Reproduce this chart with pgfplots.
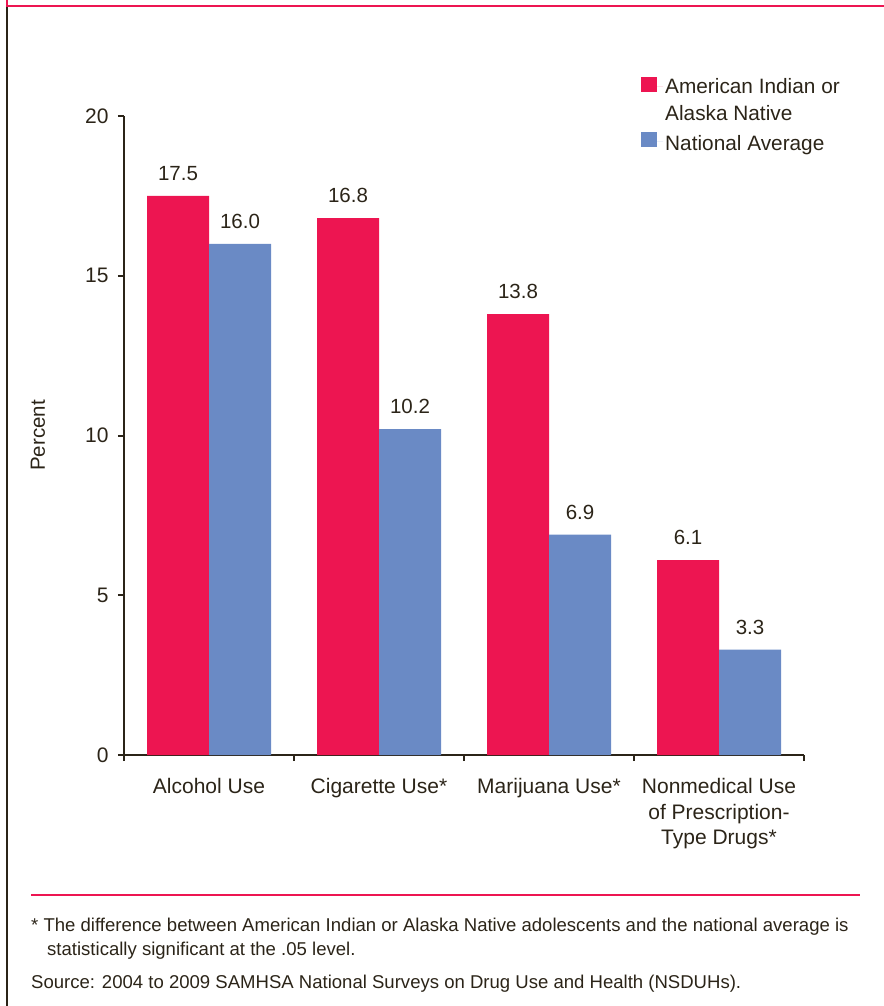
\documentclass[border=0pt]{standalone}
\usepackage{pgfplots}
\pgfplotsset{compat=1.18}
\usepackage{fontspec}
\setmainfont{Liberation Sans}
\definecolor{aired}{RGB}{237,21,81}
\definecolor{natblue}{RGB}{106,138,197}
\definecolor{txt}{RGB}{43,36,24}
\begin{document}
\begin{tikzpicture}[x=1pt,y=1pt]
\useasboundingbox (0,0) rectangle (883,-1006);
\draw[aired, line width=2pt] (7,2) -- (7,-6) -- (885,-6);
\draw[txt, line width=2.5pt] (7,-7) -- (7,-1008);
\begin{axis}[
  at={(124pt,-755pt)}, anchor=south west,
  scale only axis, width=680pt, height=639pt,
  ymin=0, ymax=20, xmin=-0.5, xmax=3.5,
  ytick={0,5,10,15,20},
  xtick={0,1,2,3},
  xticklabels={Alcohol Use, Cigarette Use*, Marijuana Use*, {Nonmedical Use\\of Prescription-\\Type Drugs*}},
  minor xtick={-0.5,0.5,1.5,2.5,3.5},
  axis lines*=left,
  axis line style={txt, line width=2.2pt},
  tick align=outside,
  major tick length=6pt, minor tick length=6pt,
  tick style={txt, line width=2pt},
  major x tick style={draw=none},
  /pgf/number format/assume math mode=true,
  tick label style={text=txt, font=\fontsize{21}{25.5}\selectfont},
  xticklabel style={align=center, yshift=-14pt},
  yticklabel style={xshift=-6pt},
  ylabel={Percent},
  ylabel style={at={(axis description cs:-0.1265,0.5)}, anchor=center, rotate=0, text=txt, font=\fontsize{20.5}{25}\selectfont},
  ybar, bar width=62pt, clip=false,
  nodes near coords={\pgfmathprintnumber[fixed,fixed zerofill,precision=1]{\pgfplotspointmeta}},
  nodes near coords style={anchor=south, inner sep=0pt, yshift=15pt, text=txt, font=\fontsize{20.5}{24}\selectfont, /pgf/number format/assume math mode=true},
  legend style={at={(axis description cs:0.7603,1.0626)}, anchor=north west, draw=none, fill=none, inner sep=0pt,
     font=\fontsize{20.8}{27.5}\selectfont, text=txt, cells={anchor=base west, inner sep=0pt}, row sep=5.5pt},
  legend cell align=left,
  legend image code/.code={\path (0pt,0pt) -- (22pt,0pt); \fill[#1] (0pt,-5.5pt) rectangle (15.5pt,10pt);},
]
\addplot[fill=aired, draw=none, bar shift=-31pt] coordinates {(0,17.5) (1,16.8) (2,13.8) (3,6.1)};
\addlegendentry{\rule[-6pt]{0pt}{21.5pt}American Indian or}
\addlegendimage{empty legend}
\addlegendentry{\raisebox{0pt}[15.5pt][10pt]{Alaska Native}}
\addplot[fill=natblue, draw=none, bar shift=31pt] coordinates {(0,16.0) (1,10.2) (2,6.9) (3,3.3)};
\addlegendentry{\raisebox{0pt}[19.5pt][6pt]{National Average}}
\end{axis}
\draw[aired, line width=2pt] (31,-895) -- (860,-895);
\begin{scope}[every node/.style={anchor=base west, inner sep=0pt, text=txt, font=\fontsize{18.55}{22}\selectfont}]
\node at (31,-931) {* The difference between American Indian or Alaska Native adolescents and the national average is};
\node at (47,-955) {statistically significant at the .05 level.};
\node at (31,-988) {Source: 2004 to 2009 SAMHSA National Surveys on Drug Use and Health (NSDUHs).};
\end{scope}
\end{tikzpicture}
\end{document}
